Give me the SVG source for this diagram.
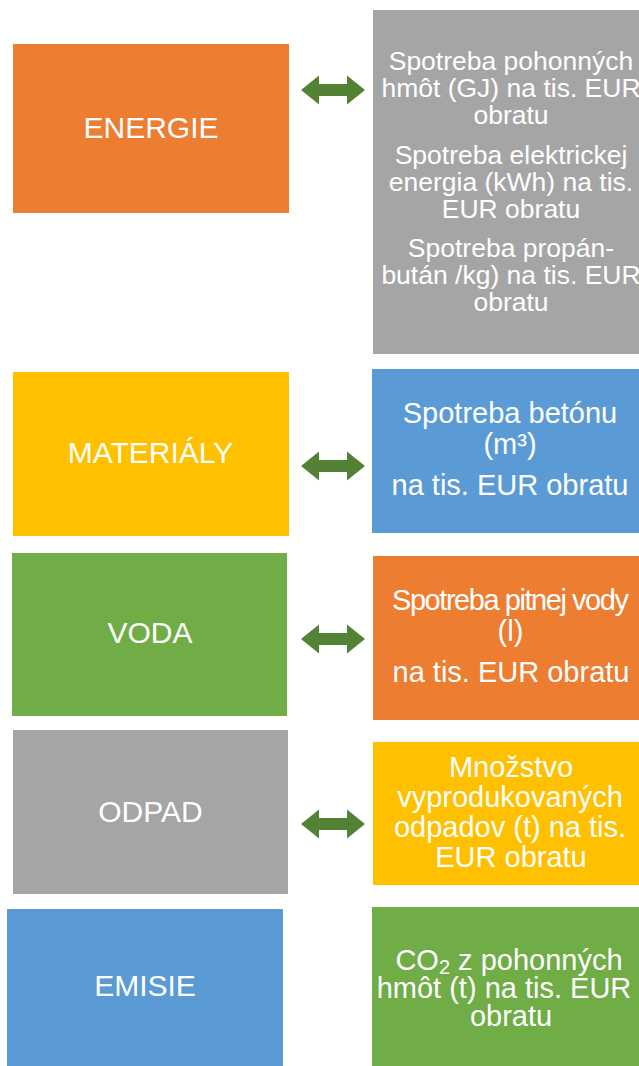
<svg xmlns="http://www.w3.org/2000/svg" width="639" height="1066" viewBox="0 0 639 1066">
<style>
.t{font-family:"Liberation Sans",Arial,sans-serif;fill:#fff;text-anchor:middle}
.l{font-size:30px}
.r{font-size:29px}
.g{font-size:26.5px}
.arr{fill:#548235}
</style>
<rect width="639" height="1066" fill="#fff"/>
<g id="energie">
<rect x="13" y="44" width="276" height="169" fill="#ED7D31"/>
<text class="t l" x="151" y="138">ENERGIE</text>
</g>
<g id="energie-detail">
<rect x="373" y="10" width="280" height="344" fill="#A5A5A5"/>
<text class="t g" x="511" y="70">Spotreba pohonných</text>
<text class="t g" x="511" y="97">hmôt (GJ) na tis. EUR</text>
<text class="t g" x="511" y="124">obratu</text>
<text class="t g" x="511" y="164">Spotreba elektrickej</text>
<text class="t g" x="511" y="191">energia (kWh) na tis.</text>
<text class="t g" x="511" y="218">EUR obratu</text>
<text class="t g" x="511" y="257">Spotreba propán-</text>
<text class="t g" x="511" y="284">bután /kg) na tis. EUR</text>
<text class="t g" x="511" y="311">obratu</text>
</g>
<g id="materialy">
<rect x="13" y="372" width="276" height="164" fill="#FFC000"/>
<text class="t l" x="150.5" y="463">MATERIÁLY</text>
</g>
<g id="materialy-detail">
<rect x="372" y="369" width="280" height="164" fill="#5B9BD5"/>
<text class="t r" x="510" y="423">Spotreba betónu</text>
<text class="t r" x="510" y="454">(m³)</text>
<text class="t r" x="510" y="495">na tis. EUR obratu</text>
</g>
<g id="voda">
<rect x="12" y="553" width="275" height="163" fill="#70AD47"/>
<text class="t l" x="150" y="643">VODA</text>
</g>
<g id="voda-detail">
<rect x="373" y="556" width="280" height="164" fill="#ED7D31"/>
<text class="t r" x="510.5" y="610" textLength="237" lengthAdjust="spacing">Spotreba pitnej vody</text>
<text class="t r" x="510.5" y="641">(l)</text>
<text class="t r" x="511" y="682">na tis. EUR obratu</text>
</g>
<g id="odpad">
<rect x="13" y="730" width="275" height="164" fill="#A5A5A5"/>
<text class="t l" x="150.5" y="822">ODPAD</text>
</g>
<g id="odpad-detail">
<rect x="373" y="742" width="280" height="143" fill="#FFC000"/>
<text class="t r" x="511" y="777">Množstvo</text>
<text class="t r" x="510" y="807">vyprodukovaných</text>
<text class="t r" x="510" y="837">odpadov (t) na tis.</text>
<text class="t r" x="511" y="867">EUR obratu</text>
</g>
<g id="emisie">
<rect x="7" y="909" width="276" height="160" fill="#5B9BD5"/>
<text class="t l" x="145" y="996">EMISIE</text>
</g>
<g id="emisie-detail">
<rect x="372" y="907" width="280" height="162" fill="#70AD47"/>
<text class="t r" x="509" y="970">CO<tspan dy="4" font-size="20">2</tspan><tspan dy="-4"> z pohonných</tspan></text>
<text class="t r" x="504" y="998">hmôt (t) na tis. EUR</text>
<text class="t r" x="511" y="1026">obratu</text>
</g>
<g id="connectors">
<polygon class="arr" points="301,90 319,75.5 319,84 347,84 347,75.5 365,90 347,104.5 347,96 319,96 319,104.5"/>
<polygon class="arr" points="301,466 319,451.5 319,460 347,460 347,451.5 365,466 347,480.5 347,472 319,472 319,480.5"/>
<polygon class="arr" points="301,639 319,624.5 319,633 347,633 347,624.5 365,639 347,653.5 347,645 319,645 319,653.5"/>
<polygon class="arr" points="301,824 319,809.5 319,818 347,818 347,809.5 365,824 347,838.5 347,830 319,830 319,838.5"/>
</g>
</svg>
